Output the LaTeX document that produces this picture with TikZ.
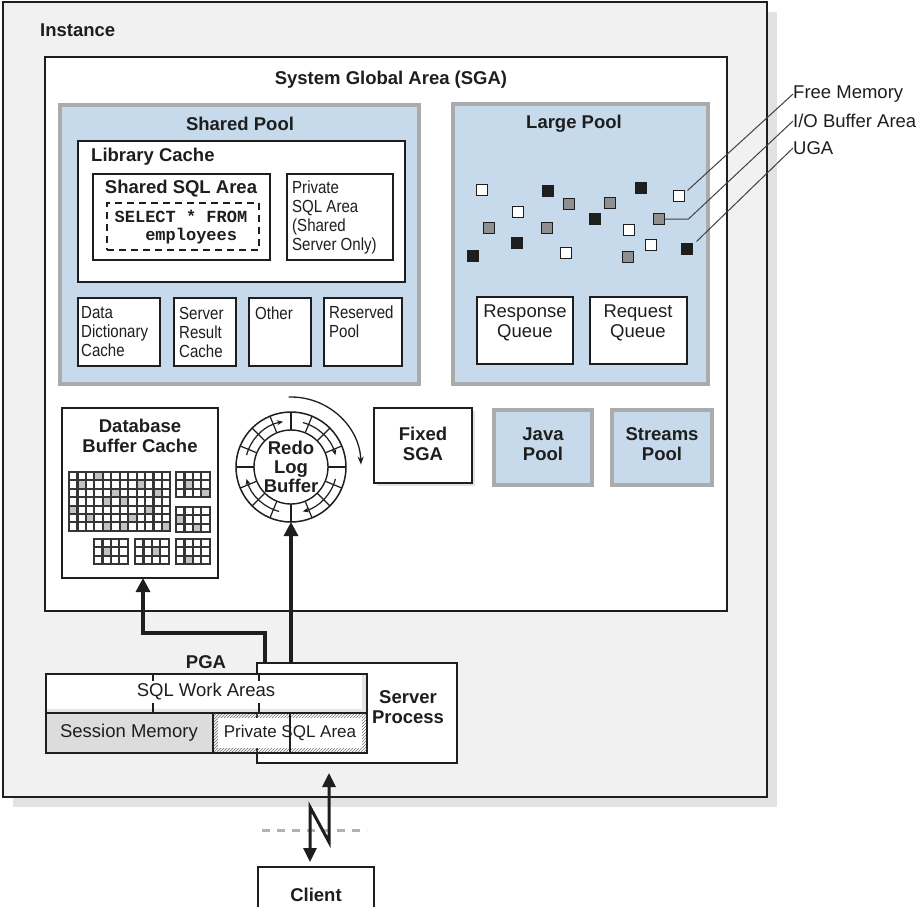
\documentclass[tikz,border=0pt]{standalone}
\usepackage{fontspec}
\setmainfont{Liberation Sans}
\newfontfamily\narrowsf[FakeStretch=0.86]{Liberation Sans}
\newfontfamily\codemono{Liberation Mono}
\usetikzlibrary{arrows.meta,patterns}

\definecolor{instfill}{HTML}{F1F1F1}
\definecolor{instshadow}{HTML}{E2E2E2}
\definecolor{poolblue}{HTML}{C7DAEC}
\definecolor{poolrim}{HTML}{A9ABAD}
\definecolor{ink}{HTML}{1E1E1E}
\definecolor{cellgray}{HTML}{A8A8A8}
\definecolor{sessgray}{HTML}{DCDCDC}

% rectangle node given by its top-left and bottom-right corners
\newcommand\areabox[6]{\node[#6,anchor=north west,minimum width={#4-#2},minimum height={#5-#3}] (#1) at (#2,#3) {};}

% block of buffer cells: x, y, columns, rows, list of shaded cells
\newcommand\cellgrid[5]{%
  \begin{scope}[shift={(#1,#2)}]
    \fill[white] (0,0) rectangle ({#3*8.45},{#4*8.4});
    \foreach \c/\r in {#5} \fill[cellgray!70] ({\c*8.45},{\r*8.4}) rectangle ++(8.45,8.4);
    \foreach \i in {0,...,#3} \draw[gridln] ({\i*8.45},0) -- ({\i*8.45},{#4*8.4});
    \foreach \j in {0,...,#4} \draw[gridln] (0,{\j*8.4}) -- ({#3*8.45},{\j*8.4});
  \end{scope}}

\tikzset{
  plainbox/.style={draw=ink,line width=2.2,fill=white,inner sep=0pt,outer sep=0pt},
  poolbox/.style={draw=poolrim,line width=3.5,fill=poolblue,inner sep=0pt,outer sep=0pt},
  ttl/.style={font=\bfseries\fontsize{18.5}{20.5}\selectfont,text=ink,inner sep=0pt,align=center},
  txt/.style={font=\fontsize{18.5}{20.5}\selectfont,text=ink,inner sep=0pt,align=center},
  nar/.style={font=\narrowsf\fontsize{17.5}{19}\selectfont,text=ink,inner sep=0pt,align=left},
  sq/.style={draw=ink,line width=1.4,minimum size=11pt,inner sep=0pt,outer sep=0pt},
  sqw/.style={sq,fill=white},
  sqg/.style={sq,fill=cellgray!85!black},
  sqb/.style={sq,fill=ink},
  leader/.style={draw=ink!85,line width=1},
  flow/.style={draw=ink,line width=3.2,-{Triangle[length=14pt,width=14pt]}},
  bolt/.style={draw=ink,line width=3,{Triangle[length=14pt,width=13pt]}-{Triangle[length=14pt,width=13pt]},line join=miter},
  gridln/.style={draw=ink!90,line width=2.1,line cap=rect},
  ringln/.style={draw=ink,line width=1.2},
}

\begin{document}
\begin{tikzpicture}[x=1pt,y=-1pt]
\useasboundingbox (0,0) rectangle (923,906);
\fill[white] (0,0) rectangle (923,906);

% ---------- instance ----------
\fill[instshadow] (13,12) rectangle (777,807);
\areabox{inst}{3}{2}{767}{797}{draw=ink,line width=2.2,fill=instfill,inner sep=0pt,outer sep=0pt}
\node[ttl,anchor=west] (instlbl) at (40,30) {Instance};

% ---------- SGA ----------
\areabox{sga}{45}{57}{727}{611}{plainbox}
\node[ttl] (sgalbl) at (391,80) {System Global Area (SGA)};

% shared pool
\areabox{shp}{60}{105}{419}{384}{poolbox}
\node[ttl] at (240,124) {Shared Pool};
\areabox{lib}{78}{141}{405}{282}{plainbox,line width=2.5}
\node[ttl,anchor=west] at (91,157) {Library Cache};
\areabox{ssa}{93}{174}{270}{260}{plainbox}
\node[ttl] at (181,189) {Shared SQL Area};
\areabox{sqlstmt}{107}{203}{259}{250}{draw=ink,line width=1.8,dash pattern=on 7pt off 5pt,inner sep=0pt,outer sep=0pt}
\node[font=\codemono\bfseries\fontsize{17}{18}\selectfont,align=left,inner sep=0pt,text=ink] at (181,227) {SELECT * FROM\\\phantom{SEL}employees};
\areabox{psa}{287}{174}{393}{260}{plainbox}
\node[nar,anchor=west] at (292,217) {Private\\SQL Area\\(Shared\\Server Only)};

\areabox{ddc}{78}{298}{160}{366}{plainbox}
\areabox{src}{174}{298}{236}{366}{plainbox}
\areabox{oth}{249}{298}{311}{366}{plainbox}
\areabox{rsv}{324}{298}{402}{366}{plainbox}
\node[nar,anchor=west] at (81,332) {Data\\Dictionary\\Cache};
\node[nar,anchor=west] at (179,332) {Server\\Result\\Cache};
\node[nar,anchor=west] at (255,313) {Other};
\node[nar,anchor=west] at (329,322) {Reserved\\Pool};

% large pool
\areabox{lgp}{453}{104}{708}{384}{poolbox}
\node[ttl] at (574,124) {Large Pool};
\node[sqw] at (482,190) {};
\node[sqw] at (518,212) {};
\node[sqw] at (566,253) {};
\node[sqw] at (629,230) {};
\node[sqw] at (651,245) {};
\node[sqw] (sqF) at (679,196) {};
\node[sqb] at (548,191) {};
\node[sqb] at (517,243) {};
\node[sqb] at (473,256) {};
\node[sqb] at (595,219) {};
\node[sqb] at (641,188) {};
\node[sqb] (sqU) at (687,249) {};
\node[sqg] at (569,204) {};
\node[sqg] at (610,203) {};
\node[sqg] at (489,228) {};
\node[sqg] at (547,228) {};
\node[sqg] (sqI) at (659,219) {};
\node[sqg] at (628,257) {};
\areabox{rspq}{477}{297}{573}{364}{plainbox}
\areabox{reqq}{590}{297}{687}{364}{plainbox}
\node[txt] at (525,323) {Response\\Queue};
\node[txt] at (638,323) {Request\\Queue};

% legend
\node[txt,anchor=west] (fmlbl) at (793,94) {Free Memory};
\node[txt,anchor=west] (iolbl) at (793,121) {I/O Buffer Area};
\node[txt,anchor=west] (ugalbl) at (793,148) {UGA};
\draw[leader] ([xshift=3pt]sqF.north east) -- (fmlbl.west);
\draw[leader] (sqI.east) -- ([xshift=24pt]sqI.east) -- (iolbl.west);
\draw[leader] ([xshift=4pt,yshift=2pt]sqU.north east) -- (ugalbl.west);

% database buffer cache
\areabox{dbc}{62}{408}{218}{578}{plainbox}
\node[ttl] at (140,436) {Database\\Buffer Cache};
\cellgrid{69}{472}{12}{7}{1/1,3/0,5/2,6/3,8/1,9/4,2/5,4/6,7/5,10/2,11/6,0/4,6/6,4/3}
\cellgrid{176}{472}{4}{3}{1/1,3/2}
\cellgrid{176}{507}{4}{3}{0/1,2/2}
\cellgrid{94}{539}{4}{3}{1/1}
\cellgrid{135}{539}{4}{3}{2/1}
\cellgrid{176}{539}{4}{3}{1/2}

% redo log buffer
\node[circle,draw=ink,line width=1.5,fill=white,minimum size=110pt,inner sep=0pt,outer sep=0pt] (redo) at (291,467) {};
\begin{scope}[shift={(291,467)},y=1pt]
  \draw[ringln,line width=1.4] (0,0) circle[radius=37];
  \foreach \a in {90,112.5,...,427.5} \draw[ringln] (\a:37) -- (\a:55);
  \foreach \s/\e in {165/100,255/195,345/285,75/15}
    \draw[ringln,-{Stealth[length=6pt,width=5pt]}] (\s:46) arc[start angle=\s,end angle=\e,radius=46];
  \draw[ink,line width=1.3,-{Stealth[length=8pt,width=6pt]}] (92:70) arc[start angle=92,end angle=2,radius=70];
\end{scope}
\node[ttl,font=\bfseries\fontsize{18.5}{19}\selectfont] at (291,467) {Redo\\Log\\Buffer};

% fixed SGA, java pool, streams pool
\fill[instshadow] (377,411) rectangle (475,486);
\areabox{fsga}{374}{408}{472}{483}{plainbox}
\node[ttl] at (423,444) {Fixed\\SGA};
\areabox{java}{494}{410}{592}{485}{poolbox}
\node[ttl] at (543,444) {Java\\Pool};
\areabox{strm}{612}{410}{712}{485}{poolbox}
\node[ttl] at (662,444) {Streams\\Pool};

% ---------- server process and PGA ----------
\areabox{server}{257}{663}{457}{763}{plainbox}
\node[ttl] at (408,707) {Server\\Process};
\node[ttl] at (206,662) {PGA};
\fill[sessgray!75] (46,674) rectangle (367,713);
\fill[white] (47,675) rectangle (362,709);
\fill[sessgray] (46,713) rectangle (213,753);
\fill[pattern=north east lines,pattern color=ink!60] (213,713) rectangle (367,753);
\fill[white] (218,718) rectangle (362,748);
\areabox{pga}{46}{674}{367}{753}{draw=ink,line width=2,inner sep=0pt,outer sep=0pt}
\draw[ink,line width=2] (46,713) -- (367,713);
\draw[ink,line width=2] (213,713) -- (213,753);
\draw[ink,line width=1.3] (290,713) -- (290,753);
\foreach \tx in {153,259} {
  \draw[ink,line width=1.5] (\tx,674) -- (\tx,681);
  \draw[ink,line width=1.5] (\tx,703) -- (\tx,713);
}
\node[txt] at (206,692) {SQL Work Areas};
\node[txt] at (129,733) {Session Memory};
\node[txt,font=\fontsize{17}{19}\selectfont] at (290,733) {Private SQL Area};

% data flows from the server process into the SGA
\coordinate (k1) at (265,633);
\coordinate (k2) at (143,633);
\draw[flow] (server.north -| k1) -- (k1) -- (k2) -- (dbc.south -| k2);
\draw[flow] (server.north -| redo) -- (redo.south);

% client connection
\areabox{client}{258}{867}{374}{935}{plainbox}
\node[ttl] at (316,895) {Client};
\draw[draw=black!30,line width=3,dash pattern=on 8pt off 7pt] (262,830) -- (367,830);
\coordinate (zR) at (329,842);
\coordinate (zL) at (310,807);
\draw[bolt,shorten <=10pt,shorten >=5pt] (server.south -| zR) -- (zR) -- (zL) -- (client.north -| zL);
\end{tikzpicture}
\end{document}
